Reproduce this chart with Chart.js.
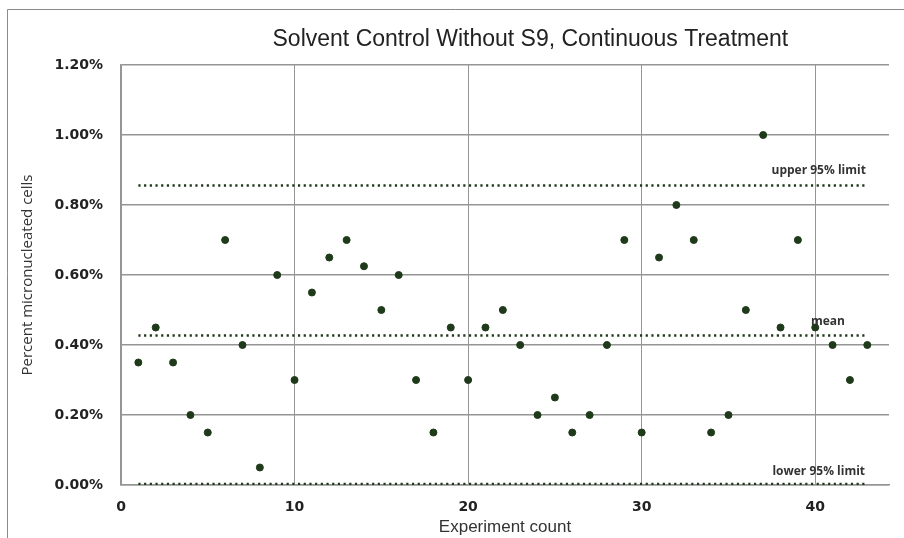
<!DOCTYPE html>
<html>
<head>
<meta charset="utf-8">
<script src="https://cdn.jsdelivr.net/npm/chart.js@4.4.1/dist/chart.umd.min.js"></script>
<style>
  html, body { margin: 0; padding: 0; background: #fff; }
  .chart-box { position: absolute; left: 0; top: 0; width: 904px; height: 538px; }
</style>
</head>
<body>
<div class="chart-box"><canvas id="Micronucleus-Chart"></canvas></div>
<script>
// data
const experiment = [1, 2, 3, 4, 5, 6, 7, 8, 9, 10, 11, 12, 13, 14, 15, 16, 17, 18, 19, 20, 21,
  22, 23, 24, 25, 26, 27, 28, 29, 30, 31, 32, 33, 34, 35, 36, 37, 38, 39, 40, 41, 42, 43];
const percentMN = [0.35, 0.45, 0.35, 0.20, 0.15, 0.70, 0.40, 0.05, 0.60, 0.30, 0.55, 0.65, 0.70,
  0.625, 0.50, 0.60, 0.30, 0.15, 0.45, 0.30, 0.45, 0.50, 0.40, 0.20, 0.25, 0.15, 0.20, 0.40,
  0.70, 0.15, 0.65, 0.80, 0.70, 0.15, 0.20, 0.50, 1.00, 0.45, 0.70, 0.45, 0.40, 0.30, 0.40];
const limitSpan = [1, 43];
const upperLimit = 0.856;
const meanValue = 0.427;
const lowerLimit = 0.003;
const xTicks = [0, 10, 20, 30, 40];
const yTicks = [0, 0.2, 0.4, 0.6, 0.8, 1.0, 1.2];

const pointColor = '#1f3a1a';
const gridColor = '#959595';

function limitLine(value) {
  return limitSpan.map((x) => ({ x: x, y: value }));
}

const lineStyle = {
  type: 'line',
  borderColor: pointColor,
  borderWidth: 2.5,
  borderDash: [2.2, 3.5],
  pointRadius: 0,
  fill: false
};

// frame, title and the small line labels
const decorations = {
  id: 'decorations',
  beforeDraw(chart) {
    const ctx = chart.ctx;
    ctx.save();
    ctx.strokeStyle = '#8a8a8a';
    ctx.lineWidth = 1;
    ctx.beginPath();
    ctx.moveTo(7.5, 538);
    ctx.lineTo(7.5, 9.5);
    ctx.lineTo(904, 9.5);
    ctx.stroke();
    ctx.restore();
  },
  afterDraw(chart) {
    const ctx = chart.ctx;
    const area = chart.chartArea;
    const xs = chart.scales.x;
    const ys = chart.scales.y;
    ctx.save();
    ctx.fillStyle = '#222';
    ctx.textBaseline = 'middle';
    ctx.textAlign = 'center';
    ctx.font = '23px "Liberation Sans"';
    ctx.fillText('Solvent Control Without S9, Continuous Treatment', area.left + area.width * 0.533, 40);

    ctx.fillStyle = '#333';
    ctx.font = 'bold 12px "Open Sans"';
    ctx.fillText('upper 95% limit', xs.getPixelForValue(40.2), ys.getPixelForValue(upperLimit) - 15);
    ctx.fillText('lower 95% limit', xs.getPixelForValue(40.2), ys.getPixelForValue(lowerLimit) - 12);
    ctx.textAlign = 'left';
    ctx.fillText('mean', xs.getPixelForValue(39.75), ys.getPixelForValue(meanValue) - 14);
    ctx.restore();
  }
};

const mnChart = new Chart(document.getElementById('Micronucleus-Chart').getContext('2d'), {
  type: 'scatter',
  data: {
    datasets: [{
      label: 'Percent micronucleated cells',
      data: experiment.map((x, i) => ({ x: x, y: percentMN[i] })),
      backgroundColor: pointColor,
      borderColor: pointColor,
      pointRadius: 3.5,
      order: 1
    }, Object.assign({ label: 'upper 95% limit', data: limitLine(upperLimit), order: 2 }, lineStyle),
    Object.assign({ label: 'mean', data: limitLine(meanValue), order: 2 }, lineStyle),
    Object.assign({ label: 'lower 95% limit', data: limitLine(lowerLimit), order: 2 }, lineStyle)]
  },
  options: {
    responsive: true,
    maintainAspectRatio: false,
    animation: false,
    layout: {
      padding: { left: 0, right: 15, top: 65, bottom: 0 }
    },
    scales: {
      x: {
        type: 'linear',
        min: 0,
        max: 44.25,
        afterBuildTicks: (scale) => { scale.ticks = xTicks.map((v) => ({ value: v })); },
        afterFit: (scale) => { scale.height = 53; },
        grid: { color: gridColor, lineWidth: 1, drawTicks: false },
        border: { color: gridColor, width: 1.5 },
        ticks: {
          padding: 14,
          color: '#222',
          font: { family: '"DejaVu Sans"', size: 14, weight: 'bold' }
        },
        title: {
          display: true,
          text: 'Experiment count',
          color: '#333',
          padding: { top: 1, bottom: 0 },
          font: { family: '"Liberation Sans"', size: 17 }
        }
      },
      y: {
        min: 0,
        max: 1.2,
        afterBuildTicks: (scale) => { scale.ticks = yTicks.map((v) => ({ value: v })); },
        afterFit: (scale) => { scale.width = 121; },
        grid: { color: gridColor, lineWidth: 1.5, drawTicks: false },
        border: { color: gridColor, width: 1.5 },
        ticks: {
          padding: 18,
          color: '#222',
          font: { family: '"DejaVu Sans"', size: 14, weight: 'bold' },
          callback: (value) => value.toFixed(2) + '%'
        },
        title: {
          display: true,
          text: 'Percent micronucleated cells',
          color: '#333',
          padding: { top: 19, bottom: 0 },
          font: { family: '"Open Sans"', size: 15 }
        }
      }
    },
    plugins: {
      legend: { display: false },
      tooltip: { enabled: false }
    }
  },
  plugins: [decorations]
});
</script>
</body>
</html>
